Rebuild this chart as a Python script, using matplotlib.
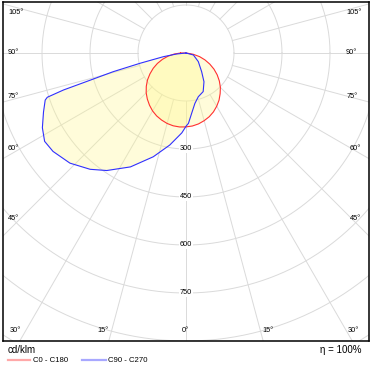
import numpy as np
import matplotlib
matplotlib.use("Agg")
import matplotlib.pyplot as plt
from matplotlib.lines import Line2D

plt.rcParams['font.family'] = ['Liberation Sans', 'DejaVu Sans']

# ---- data (cd/klm) ----
# C0 - C180 (red), gamma angles in degrees, left and right halves
red_gamma = [0, 5, 10, 15, 20, 25, 30, 35, 40, 45, 50, 55, 60, 65, 70, 75, 80, 85, 90]
red_left = [231, 232, 231, 228, 223, 217, 209, 199, 188, 176, 162, 147, 130, 113, 95, 76, 57, 37, 17]
red_right = [231, 229, 225, 219, 212, 203, 192, 180, 166, 152, 136, 119, 101, 82, 63, 44, 23, 3, 0]

# C90 - C270 (blue)
blue_left_gamma = [0, 3, 10, 17.5, 26, 34, 39.5, 46.5, 53.5, 58, 62.5, 67.5, 71.5, 72.3, 73.2, 74, 75.6, 77.4, 80.7, 84, 90]
blue_left = [229, 250, 292, 340, 396, 443, 471, 500, 517, 521, 506, 482, 464, 455, 400, 323, 235, 147, 72, 30, 0]
blue_right_gamma = [0, 2, 5.4, 10, 15.7, 24, 32, 40, 55, 75, 90]
blue_right = [229, 220, 189, 160, 142, 132, 106, 76, 47, 24, 0]

ring_values = [150, 300, 450, 600, 750, 900, 1050, 1200]
ring_labels = [300, 450, 600, 750]
radial_step = 15

unit_label = "cd/klm"
eta_label = "\u03b7 = 100%"
legend_labels = ["C0 - C180", "C90 - C270"]

# ---- layout ----
W, H = 372, 370
CX, CY = 186, 53          # pixel position of the polar centre
S = 0.32                  # pixels per cd/klm
FL, FR, FT, FB = 3, 369, 1.5, 340.5

fig = plt.figure(figsize=(W / 100, H / 100), dpi=100)
ax = fig.add_axes([FL / W, 1 - FB / H, (FR - FL) / W, (FB - FT) / H])
ax.set_xlim((FL - CX) / S, (FR - CX) / S)
ax.set_ylim(-(FB - CY) / S, (CY - FT) / S)
ax.set_xticks([])
ax.set_yticks([])
for sp in ax.spines.values():
    sp.set_linewidth(1.1)
    sp.set_color('black')

grid_col = '#dadada'
t = np.linspace(0, 2 * np.pi, 400)
for r in ring_values:
    ax.plot(r * np.cos(t), r * np.sin(t), color=grid_col, lw=0.7, zorder=1)
r0, r1 = ring_values[0], ring_values[-1]
for a in range(0, 360, radial_step):
    ar = np.radians(a)
    ax.plot([r0 * np.sin(ar), r1 * np.sin(ar)], [-r0 * np.cos(ar), -r1 * np.cos(ar)],
            color=grid_col, lw=0.7, zorder=1)


def polar_xy(gl, il, gr, ir):
    gl = np.radians(gl); gr = np.radians(gr)
    il = np.asarray(il, float); ir = np.asarray(ir, float)
    xl = -il * np.sin(gl); yl = -il * np.cos(gl)
    xr = ir * np.sin(gr); yr = -ir * np.cos(gr)
    x = np.concatenate([xl[::-1], xr])
    y = np.concatenate([yl[::-1], yr])
    return x, y


fill_col = (1.0, 0.97, 0.55)
xb, yb = polar_xy(blue_left_gamma, blue_left, blue_right_gamma, blue_right)
xr_, yr_ = polar_xy(red_gamma, red_left, red_gamma, red_right)
ax.fill(xb, yb, color=fill_col, alpha=0.32, lw=0, zorder=2)
ax.fill(xr_, yr_, color=fill_col, alpha=0.32, lw=0, zorder=2)
ax.plot(np.append(xr_, xr_[0]), np.append(yr_, yr_[0]), color='#ff3030', lw=0.8, zorder=3)
ax.plot(np.append(xb, xb[0]), np.append(yb, yb[0]), color='#3030ff', lw=0.8, zorder=3)

# ring labels
for v in ring_labels:
    ax.text(0, -v, str(v), ha='center', va='center', fontsize=5.3, zorder=4,
            bbox=dict(facecolor='white', edgecolor='none', pad=0.3))


def ftext(x, y, s, **kw):
    fig.text(x / W, 1 - y / H, s, **kw)


# angle labels: (text, x, y, ha)
angle_layout = [
    ("105°", 8, 13, 'left'), ("90°", 8, 53, 'left'), ("75°", 8, 97, 'left'),
    ("60°", 8, 148, 'left'), ("45°", 8, 218, 'left'), ("30°", 10, 330, 'left'),
    ("105°", 346, 13, 'left'), ("90°", 346, 53, 'left'), ("75°", 347, 97, 'left'),
    ("60°", 350, 148, 'left'), ("45°", 350, 218, 'left'), ("30°", 348, 330, 'left'),
    ("15°", 102.5, 330, 'center'), ("0°", 185, 330, 'center'), ("15°", 267.5, 330, 'center'),
]
for s, x, y, ha in angle_layout:
    ftext(x, y, s, ha=ha, va='center', fontsize=5.3)

ftext(8, 350, unit_label, ha='left', va='center', fontsize=7)
ftext(362, 350, eta_label, ha='right', va='center', fontsize=7)

# legend
leg_y = 1 - 360 / H
fig.add_artist(Line2D([7.5 / W, 30 / W], [leg_y, leg_y], color='#ffa8a8', lw=1.6))
fig.add_artist(Line2D([82 / W, 106 / W], [leg_y, leg_y], color='#a8a8ff', lw=1.6))
ftext(33, 360, legend_labels[0], ha='left', va='center', fontsize=5.6)
ftext(108, 360, legend_labels[1], ha='left', va='center', fontsize=5.6)

fig.savefig("out.png", dpi=100)
